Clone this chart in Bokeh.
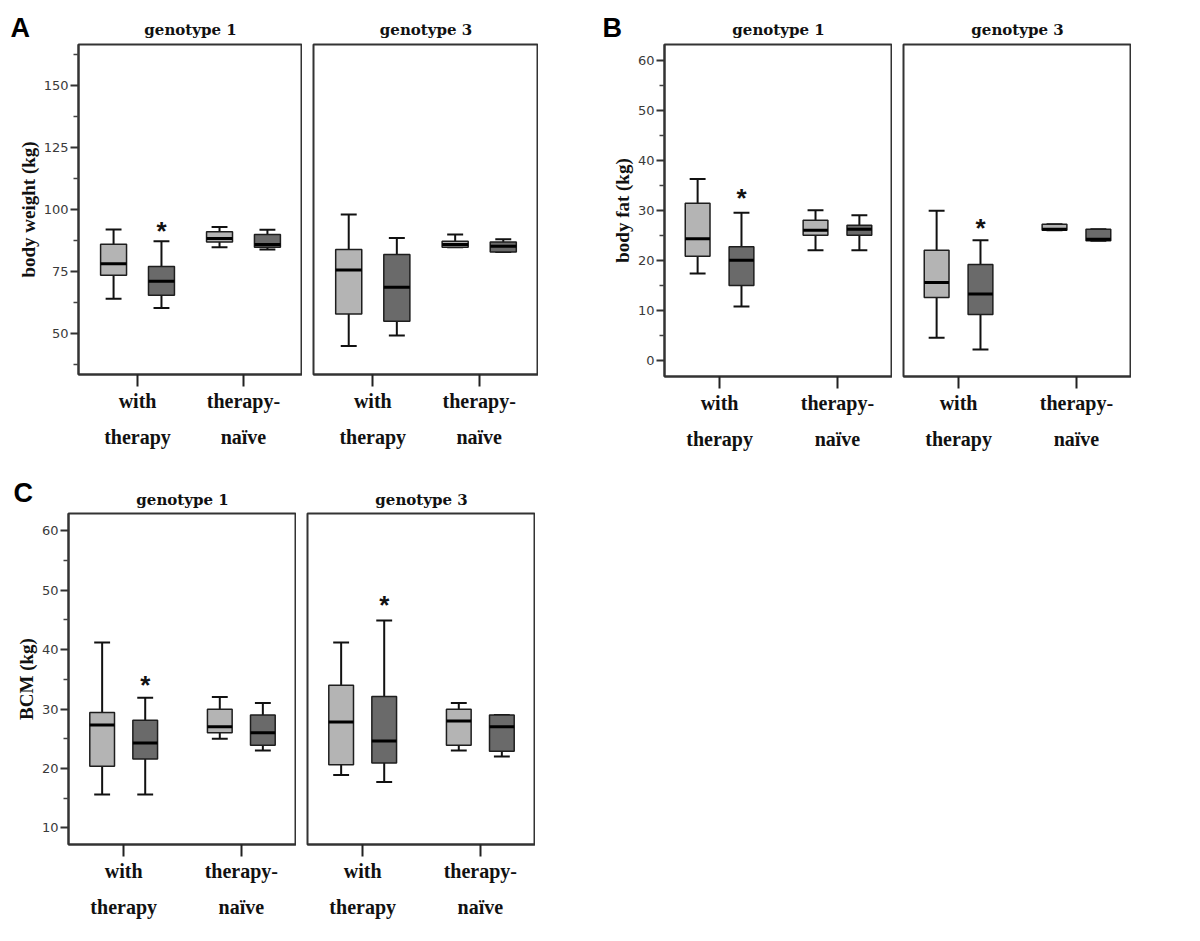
from bokeh.plotting import figure
from bokeh.models import Range1d, FixedTicker, LinearAxis, Label, ColumnDataSource
from bokeh.layouts import row, column
from bokeh.core.properties import value
from bokeh.embed import file_html
from bokeh.resources import INLINE

# ---------------- data ----------------
categories = ["with therapy", "therapy-naïve"]
tick_line1 = ["with", "therapy-"]
tick_line2 = ["therapy", "naïve"]
genotypes = ["genotype 1", "genotype 3"]
panel_letters = ["A", "B", "C"]

# each entry per category: [whisker low, Q1, median, Q3, whisker high]
weight_g1_light = [[64.0, 73.5, 78.1, 86.0, 91.9], [84.8, 86.9, 88.3, 91.0, 92.9]]
weight_g1_dark = [[60.3, 65.4, 71.1, 77.0, 87.2], [83.9, 84.8, 85.9, 89.9, 91.8]]
weight_g3_light = [[45.0, 57.9, 75.6, 83.9, 98.0], [84.8, 84.8, 85.9, 87.2, 89.9]]
weight_g3_dark = [[49.2, 55.0, 68.7, 81.9, 88.5], [82.9, 82.9, 85.2, 86.9, 88.0]]
weight_star = [92.6, None]

fat_g1_light = [[17.45, 20.9, 24.4, 31.5, 36.35], [22.1, 25.1, 26.1, 28.1, 30.1]]
fat_g1_dark = [[10.8, 15.05, 20.1, 22.8, 29.6], [22.1, 25.1, 26.3, 27.1, 29.1]]
fat_g3_light = [[4.55, 12.6, 15.65, 22.1, 30.0], [26.1, 26.1, 26.3, 27.3, 27.3]]
fat_g3_dark = [[2.2, 9.2, 13.3, 19.25, 24.1], [24.0, 24.0, 24.3, 26.3, 26.3]]
fat_star = [33.1, 27.1]

bcm_g1_light = [[15.6, 20.35, 27.3, 29.4, 41.2], [25.0, 26.0, 27.0, 29.95, 32.0]]
bcm_g1_dark = [[15.6, 21.6, 24.3, 28.1, 31.9], [23.0, 23.9, 26.0, 29.0, 31.0]]
bcm_g3_light = [[18.9, 20.6, 27.8, 34.0, 41.2], [23.0, 23.9, 28.0, 29.95, 31.0]]
bcm_g3_dark = [[17.7, 20.9, 24.6, 32.1, 44.9], [22.0, 22.9, 27.0, 29.0, 29.0]]
bcm_star = [34.5, 48.0]

weight_ticks = [50, 75, 100, 125, 150]
weight_minor = [37.5, 62.5, 87.5, 112.5, 137.5, 162.5]
fat_ticks = [0, 10, 20, 30, 40, 50, 60]
fat_minor = [5, 15, 25, 35, 45, 55]
bcm_ticks = [10, 20, 30, 40, 50, 60]
bcm_minor = [15, 25, 35, 45, 55]

# ---------------- style ----------------
LIGHT = "#b4b4b4"
DARK = "#6a6a6a"
SERIF = "Liberation Serif"
TITLE_FONT = "DejaVu Serif"
SANS = "Liberation Sans"
TICKFONT = "DejaVu Sans"
HEAD_H = 42


def make_sub(light, dark, star, yr, yt, ym, ylabel, pad, dodge, bw, cap,
             fw, fh, left, top, bottom, show_y):
    p = figure(frame_width=fw, frame_height=fh,
               x_range=Range1d(-pad, len(categories) - 1 + pad),
               y_range=Range1d(*yr),
               toolbar_location=None, output_backend="svg",
               min_border_left=left, min_border_right=0,
               min_border_top=top, min_border_bottom=bottom,
               y_axis_location="left" if show_y else None)
    p.background_fill_color = "white"
    p.border_fill_color = "white"
    p.outline_line_color = "#333333"
    p.outline_line_width = 2
    p.grid.visible = False

    xa = p.xaxis[0]
    xa.ticker = FixedTicker(ticks=list(range(len(categories))), minor_ticks=[])
    xa.major_label_overrides = {i: t for i, t in enumerate(tick_line1)}
    xa.major_label_text_font = SERIF
    xa.major_label_text_font_style = "bold"
    xa.major_label_text_font_size = "20px"
    xa.major_label_text_color = "#111111"
    xa.major_label_standoff = 3
    xa.major_tick_out = 12
    xa.major_tick_in = 0
    xa.major_tick_line_width = 2
    xa.major_tick_line_color = "#222222"
    xa.axis_line_width = 2
    xa.axis_line_color = "#333333"
    xa.minor_tick_line_color = None

    xb = LinearAxis(ticker=FixedTicker(ticks=list(range(len(categories))), minor_ticks=[]))
    xb.major_label_overrides = {i: t for i, t in enumerate(tick_line2)}
    xb.major_label_text_font = SERIF
    xb.major_label_text_font_style = "bold"
    xb.major_label_text_font_size = "20px"
    xb.major_label_text_color = "#111111"
    xb.major_label_standoff = 11
    xb.major_tick_line_color = None
    xb.major_tick_out = 0
    xb.major_tick_in = 0
    xb.minor_tick_line_color = None
    xb.axis_line_color = None
    p.add_layout(xb, "below")

    if show_y:
        ya = p.yaxis[0]
        ya.ticker = FixedTicker(ticks=yt, minor_ticks=ym)
        ya.axis_label = ylabel
        ya.axis_label_text_font = SERIF
        ya.axis_label_text_font_style = "bold"
        ya.axis_label_text_font_size = "19px"
        ya.axis_label_text_color = "#111111"
        ya.axis_label_standoff = 2
        ya.major_label_text_font = TICKFONT
        ya.major_label_text_font_size = "13px"
        ya.major_label_text_color = "#3a3a3a"
        ya.major_label_standoff = 2
        ya.major_tick_out = 8
        ya.major_tick_in = 0
        ya.major_tick_line_width = 2
        ya.major_tick_line_color = "#333333"
        ya.minor_tick_out = 5
        ya.minor_tick_in = 0
        ya.minor_tick_line_width = 1.5
        ya.minor_tick_line_color = "#444444"
        ya.axis_line_width = 2
        ya.axis_line_color = "#333333"

    for stats, color, off in ((light, LIGHT, -dodge), (dark, DARK, dodge)):
        xs = [i + off for i in range(len(stats))]
        src = ColumnDataSource(dict(
            x=xs,
            lo=[s[0] for s in stats], q1=[s[1] for s in stats],
            med=[s[2] for s in stats], q3=[s[3] for s in stats],
            hi=[s[4] for s in stats],
            cl=[x - cap / 2 for x in xs], cr=[x + cap / 2 for x in xs],
            ml=[x - bw / 2 for x in xs], mr=[x + bw / 2 for x in xs],
        ))
        p.segment(x0="x", y0="q3", x1="x", y1="hi", source=src, line_color="#111111", line_width=2)
        p.segment(x0="x", y0="lo", x1="x", y1="q1", source=src, line_color="#111111", line_width=2)
        p.segment(x0="cl", y0="hi", x1="cr", y1="hi", source=src, line_color="#111111", line_width=2)
        p.segment(x0="cl", y0="lo", x1="cr", y1="lo", source=src, line_color="#111111", line_width=2)
        p.vbar(x="x", width=bw, bottom="q1", top="q3", source=src,
               fill_color=color, line_color="#1e1e1e", line_width=1.5)
        p.segment(x0="ml", y0="med", x1="mr", y1="med", source=src, line_color="#000000", line_width=3)

    if star is not None:
        p.text(x=[0 + dodge], y=[star], text=["*"], text_align="center", text_baseline="middle",
               text_font=value(SANS), text_font_style="bold", text_font_size="26px",
               text_color="#111111", y_offset=3)
    return p


def header(width, letters, titles):
    """Strip above a row of panels holding the panel letters and the genotype titles."""
    h = figure(width=width, height=HEAD_H, x_range=Range1d(0, width), y_range=Range1d(0, HEAD_H),
               toolbar_location=None, output_backend="svg", min_border=0,
               x_axis_location=None, y_axis_location=None)
    h.outline_line_color = None
    h.grid.visible = False
    h.background_fill_color = "white"
    h.border_fill_color = "white"
    for txt, x, y in letters:
        h.add_layout(Label(x=x, y=y, text=txt, text_font=SANS, text_font_style="bold",
                           text_font_size="27px", text_color="#000000",
                           text_baseline="alphabetic", text_align="left"))
    for txt, x, y in titles:
        h.add_layout(Label(x=x, y=y, text=txt, text_font=TITLE_FONT, text_font_style="bold",
                           text_font_size="15px", text_color="#111111",
                           text_baseline="alphabetic", text_align="center"))
    return h


# layout constants (pixels)
A_L, A_W, A3_L, A3_W, B_L, B_W, B3_L, B3_W = 78, 224, 11, 225, 126, 228, 11, 228
C_L, C_W, C3_L, C3_W = 68, 228, 11, 228

# Panel A
A1 = make_sub(weight_g1_light, weight_g1_dark, weight_star[0], (33.5, 166.5),
              weight_ticks, weight_minor, "body weight (kg)", 0.557, 0.226, 0.245, 0.15,
              A_W, 330, A_L, 2, 95, True)
A3 = make_sub(weight_g3_light, weight_g3_dark, weight_star[1], (33.5, 166.5),
              weight_ticks, weight_minor, "", 0.557, 0.226, 0.245, 0.15,
              A3_W, 330, A3_L, 2, 95, False)
# Panel B
B1 = make_sub(fat_g1_light, fat_g1_dark, fat_star[0], (-3.2, 63.3),
              fat_ticks, fat_minor, "body fat (kg)", 0.467, 0.186, 0.21, 0.135,
              B_W, 332, B_L, 2, 93, True)
B3 = make_sub(fat_g3_light, fat_g3_dark, fat_star[1], (-3.2, 63.3),
              fat_ticks, fat_minor, "", 0.467, 0.186, 0.21, 0.135,
              B3_W, 332, B3_L, 2, 93, False)
# Panel C
C1 = make_sub(bcm_g1_light, bcm_g1_dark, bcm_star[0], (7.2, 62.9),
              bcm_ticks, bcm_minor, "BCM (kg)", 0.469, 0.183, 0.21, 0.135,
              C_W, 331, C_L, 2, 85, True)
C3 = make_sub(bcm_g3_light, bcm_g3_dark, bcm_star[1], (7.2, 62.9),
              bcm_ticks, bcm_minor, "", 0.469, 0.183, 0.21, 0.135,
              C3_W, 331, C3_L, 2, 85, False)

row1_w = A_L + A_W + A3_L + A3_W + B_L + B_W + B3_L + B3_W
xA1 = A_L + A_W / 2
xA3 = A_L + A_W + A3_L + A3_W / 2
xB0 = A_L + A_W + A3_L + A3_W
xB1 = xB0 + B_L + B_W / 2
xB3 = xB0 + B_L + B_W + B3_L + B3_W / 2
head1 = header(row1_w,
               [(panel_letters[0], 10, 15), (panel_letters[1], xB0 + 64, 15)],
               [(genotypes[0], xA1, 13), (genotypes[1], xA3, 13),
                (genotypes[0], xB1, 13), (genotypes[1], xB3, 13)])

row2_w = C_L + C_W + C3_L + C3_W
head2 = header(row2_w,
               [(panel_letters[2], 13, 19)],
               [(genotypes[0], C_L + C_W / 2, 12), (genotypes[1], C_L + C_W + C3_L + C3_W / 2, 12)])

layout = column(head1, row(A1, A3, B1, B3), head2, row(C1, C3))
open("out.html", "w").write(file_html(layout, INLINE))
